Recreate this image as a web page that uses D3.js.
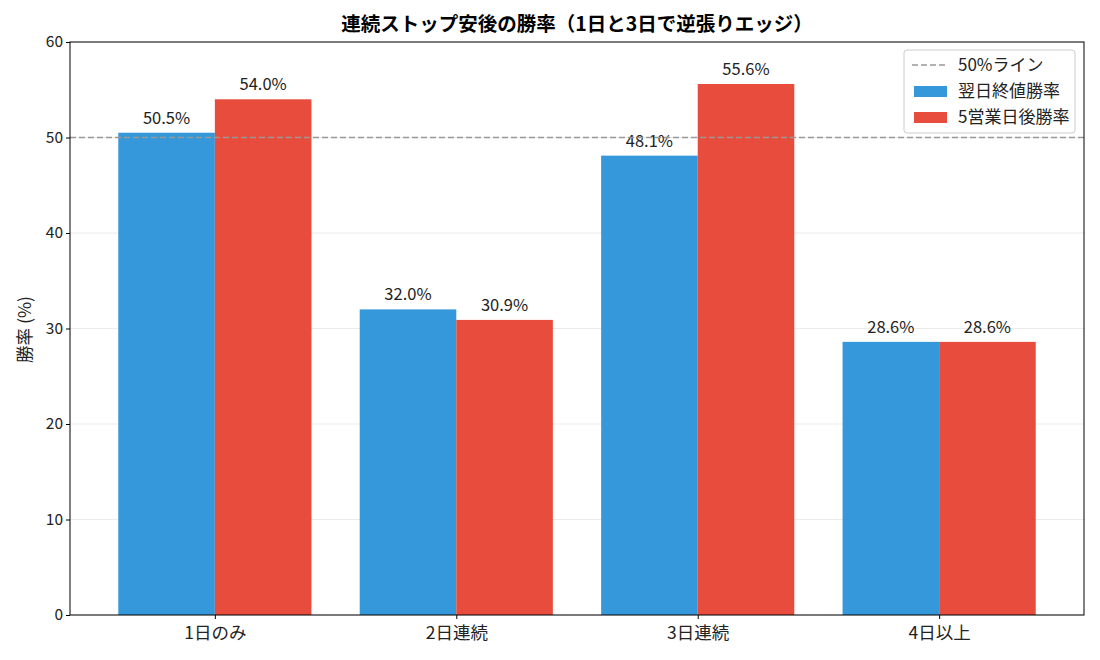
<!DOCTYPE html>
<html>
<head>
<meta charset="utf-8">
<script src="https://cdn.jsdelivr.net/npm/d3@7"></script>
<style>
  body { margin: 0; background: #fff; }
  svg { font-family: "Noto Sans CJK JP", "DejaVu Sans", sans-serif; }
</style>
</head>
<body>
<svg id="chart" width="1100" height="660"></svg>
<script>
const CATEGORIES = ['1日のみ', '2日連続', '3日連続', '4日以上'];
const NEXT_DAY = [50.5, 32.0, 48.1, 28.6];
const FIVE_DAY = [54.0, 30.9, 55.6, 28.6];
const SERIES_NAMES = ['翌日終値勝率', '5営業日後勝率'];
const Y_TICKS = [0, 10, 20, 30, 40, 50, 60];
const THRESHOLD = 50;

const COLORS = ['#3498db', '#e74c3c'];
const BAR_W = 0.4;

const margin = { left: 70, right: 16, top: 42, bottom: 45 };
const W = 1100, H = 660;

const svg = d3.select('#chart');

const x = d3.scaleLinear()
    .domain([-0.6, CATEGORIES.length - 0.4])
    .range([margin.left, W - margin.right]);
const y = d3.scaleLinear()
    .domain([0, 60])
    .range([H - margin.bottom, margin.top]);

// grid
svg.append('g')
    .selectAll('line')
    .data(Y_TICKS)
    .enter().append('line')
        .attr('x1', margin.left).attr('x2', W - margin.right)
        .attr('y1', d => y(d)).attr('y2', d => y(d))
        .attr('stroke', '#e6e6e6').attr('stroke-width', 0.8);

// bars
const seriesData = [NEXT_DAY, FIVE_DAY];
seriesData.forEach((vals, s) => {
    const offset = s === 0 ? -BAR_W : 0;
    const g = svg.append('g');
    g.selectAll('rect')
        .data(vals)
        .enter().append('rect')
            .attr('x', (d, i) => x(i + offset))
            .attr('width', x(BAR_W) - x(0))
            .attr('y', d => y(d))
            .attr('height', d => y(0) - y(d))
            .attr('fill', COLORS[s]);
    g.selectAll('text')
        .data(vals)
        .enter().append('text')
            .attr('x', (d, i) => x(i + offset + BAR_W / 2))
            .attr('y', d => y(d) - 9)
            .attr('text-anchor', 'middle')
            .style('font-size', '16.5px')
            .attr('fill', '#222')
            .text(d => d.toFixed(1) + '%');
});

// 50% line
svg.append('line')
    .attr('x1', margin.left).attr('x2', W - margin.right)
    .attr('y1', y(THRESHOLD)).attr('y2', y(THRESHOLD))
    .attr('stroke', '#999').attr('stroke-width', 1.6)
    .attr('stroke-dasharray', '6,3');

// axes
const xAxis = svg.append('g')
    .attr('transform', `translate(0,${y(0)})`)
    .call(d3.axisBottom(x)
        .tickValues(d3.range(CATEGORIES.length))
        .tickFormat(i => CATEGORIES[i])
        .tickSizeOuter(0)
        .tickSize(4));
xAxis.attr('font-family', null);
xAxis.selectAll('text').style('font-size', '17.5px').attr('fill', '#222').attr('dy', '0.95em');

const yAxis = svg.append('g')
    .attr('transform', `translate(${margin.left},0)`)
    .call(d3.axisLeft(y).tickValues(Y_TICKS).tickSize(4).tickSizeOuter(0));
yAxis.attr('font-family', null);
yAxis.selectAll('text').style('font-size', '15.5px').attr('fill', '#222');
svg.selectAll('.domain').remove();

// frame
svg.append('rect')
    .attr('x', margin.left).attr('y', margin.top)
    .attr('width', W - margin.left - margin.right)
    .attr('height', H - margin.top - margin.bottom)
    .attr('fill', 'none').attr('stroke', '#000').attr('stroke-width', 1);

// y label
svg.append('text')
    .attr('transform', `translate(31,${(margin.top + H - margin.bottom) / 2 + 1}) rotate(-90)`)
    .attr('text-anchor', 'middle')
    .style('font-size', '17.5px')
    .attr('fill', '#222')
    .text('勝率 (%)');

// title
svg.append('text')
    .attr('x', (margin.left + W - margin.right) / 2)
    .attr('y', 31)
    .attr('text-anchor', 'middle')
    .style('font-size', '19.5px')
    .attr('font-weight', 'bold')
    .attr('fill', '#000')
    .text('連続ストップ安後の勝率（1日と3日で逆張りエッジ）');

// legend
const lg = svg.append('g').attr('transform', 'translate(904,50)');
lg.append('rect')
    .attr('width', 171).attr('height', 83).attr('rx', 3)
    .attr('fill', '#fff').attr('fill-opacity', 0.8)
    .attr('stroke', '#ccc');
lg.append('line')
    .attr('x1', 8).attr('x2', 42).attr('y1', 15).attr('y2', 15)
    .attr('stroke', '#999').attr('stroke-width', 1.6).attr('stroke-dasharray', '6,3');
lg.append('text').attr('x', 54).attr('y', 21).style('font-size', '17px').attr('fill', '#222')
    .text('50%ライン');
SERIES_NAMES.forEach((name, i) => {
    lg.append('rect')
        .attr('x', 10).attr('y', 36 + i * 26)
        .attr('width', 33).attr('height', 11)
        .attr('fill', COLORS[i]);
    lg.append('text').attr('x', 54).attr('y', 47 + i * 26).style('font-size', '17px').attr('fill', '#222')
        .text(name);
});
</script>
</body>
</html>
